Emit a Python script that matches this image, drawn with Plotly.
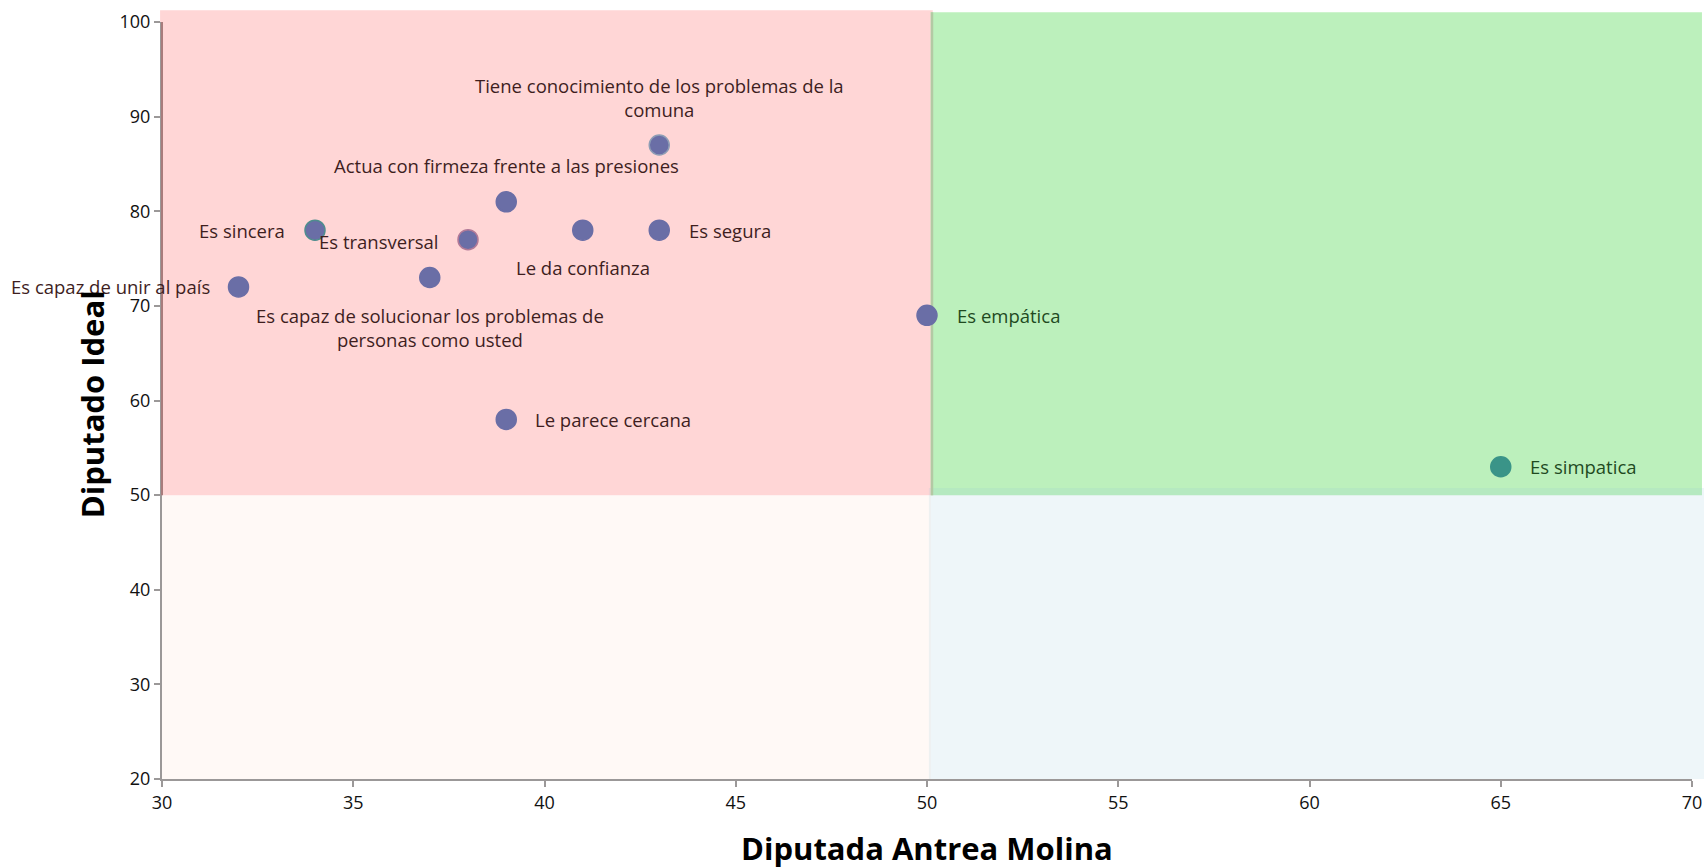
import plotly.graph_objects as go

# ---- data ----
labels = [
    "Tiene conocimiento de los problemas de la<br>comuna",
    "Actua con firmeza frente a las presiones",
    "Es sincera",
    "Es transversal",
    "Le da confianza",
    "Es segura",
    "Es capaz de solucionar los problemas de<br>personas como usted",
    "Es capaz de unir al país",
    "Es empática",
    "Le parece cercana",
    "Es simpatica",
]
x_vals = [43, 39, 34, 38, 41, 43, 37, 32, 50, 39, 65]
y_vals = [87, 81, 78, 77, 78, 78, 73, 72, 69, 58, 53]

x_ticks = [30, 35, 40, 45, 50, 55, 60, 65, 70]
y_ticks = [20, 30, 40, 50, 60, 70, 80, 90, 100]

x_title = "Diputada Antrea Molina"
y_title = "Diputado Ideal"

# ---- styles ----
FONT = "Open Sans"
marker_colors = ["#6A6EA6"] * 10 + ["#3A9488"]
marker_lines = ["#8E9DB5", "#6A6EA6", "#4E8C8E", "#B27A98", "#6A6EA6", "#6A6EA6",
                "#6A6EA6", "#6A6EA6", "#6A6EA6", "#6A6EA6", "#3A9488"]
label_colors = ["#3E1E1E"] * 8 + ["#1F4A1F", "#3E1E1E", "#1F4A1F"]
# (xanchor, yanchor, xshift, yshift)
label_pos = [
    ("center", "middle", 0, 48),
    ("center", "middle", 0, 36),
    ("right", "middle", -28, 0),
    ("right", "middle", -28, -2),
    ("center", "middle", 0, -37),
    ("left", "middle", 28, 0),
    ("center", "middle", 0, -50),
    ("right", "middle", -27, 0),
    ("left", "middle", 28, 0),
    ("left", "middle", 27, 0),
    ("left", "middle", 27, 0),
]

XMIN, XMAX, YMIN, YMAX = x_ticks[0], x_ticks[-1], y_ticks[0], y_ticks[-1]


def fx(v):
    return (v - XMIN) / (XMAX - XMIN)


def fy(v):
    return (v - YMIN) / (YMAX - YMIN)


fig = go.Figure()

fig.add_trace(go.Scatter(
    x=x_vals, y=y_vals, mode="markers",
    marker=dict(size=20, color=marker_colors,
                line=dict(color=marker_lines, width=1.5)),
    hoverinfo="skip", showlegend=False,
))

shapes = [
    # lower-left cream
    dict(type="rect", xref="x domain", yref="y domain",
         x0=fx(30), x1=fx(50.1), y0=fy(20), y1=fy(50),
         fillcolor="#FFF9F6", line_width=0, layer="below"),
    # pink upper-left
    dict(type="rect", xref="x domain", yref="y domain",
         x0=fx(29.95), x1=fx(50.15), y0=fy(50), y1=1.0155,
         fillcolor="#FFD6D6", line_width=0, layer="below"),
    # green upper-right
    dict(type="rect", xref="x domain", yref="y domain",
         x0=fx(50.1), x1=1.0065, y0=fy(50), y1=1.013,
         fillcolor="#BCF0BC", line_width=0, layer="below"),
    # lower-right light blue, slightly overlapping green
    dict(type="rect", xref="x domain", yref="y domain",
         x0=fx(50.05), x1=1.008, y0=fy(20), y1=fy(50.75),
         fillcolor="rgba(141,195,215,0.15)", line_width=0, layer="below"),
    # border strip between pink and green
    dict(type="line", xref="x domain", yref="y domain",
         x0=fx(50.13), x1=fx(50.13), y0=fy(50), y1=1.013,
         line=dict(color="#B3C9A4", width=2.5), layer="below"),
    # tinted y-axis line segment over the pink area
    dict(type="line", xref="x domain", yref="y domain",
         x0=0, x1=0, y0=fy(50), y1=1.0,
         line=dict(color="#A87C7C", width=2), layer="above"),
]

annotations = []
for lab, xv, yv, col, (xa, ya, xs, ys) in zip(labels, x_vals, y_vals, label_colors, label_pos):
    annotations.append(dict(
        x=xv, y=yv, xref="x", yref="y", text=lab, showarrow=False,
        xanchor=xa, yanchor=ya, xshift=xs, yshift=ys, align="center",
        font=dict(family=FONT, size=18.5, color=col),
    ))

annotations.append(dict(
    text=f"<b>{x_title}</b>", xref="paper", yref="paper", x=0.5, y=-0.091,
    xanchor="center", yanchor="middle", showarrow=False,
    font=dict(family=FONT, size=31, color="#000000"),
))
annotations.append(dict(
    text=f"<b>{y_title}</b>", xref="paper", yref="paper", x=-0.0458, y=0.495,
    xanchor="center", yanchor="middle", showarrow=False, textangle=-90,
    font=dict(family=FONT, size=31, color="#000000"),
))

axis_common = dict(
    showgrid=False, zeroline=False, showline=True, linecolor="#9B9898", linewidth=2,
    ticks="outside", ticklen=6, tickwidth=1.5, tickcolor="#9B9898",
    tickfont=dict(family=FONT, size=18, color="#111111"),
    automargin=False,
)

fig.update_layout(
    width=1704, height=868,
    margin=dict(l=162, r=12, t=22, b=89),
    paper_bgcolor="white", plot_bgcolor="white",
    xaxis=dict(range=[XMIN, XMAX], tickvals=x_ticks, **axis_common),
    yaxis=dict(range=[YMIN, YMAX], tickvals=y_ticks, **axis_common),
    shapes=shapes, annotations=annotations,
    showlegend=False,
)

# remove the default page margin so the figure fills the window exactly
fig.write_html(
    "out.html",
    config={"displayModeBar": False},
    post_script="document.body.style.margin='0';document.body.style.overflow='hidden';",
)
